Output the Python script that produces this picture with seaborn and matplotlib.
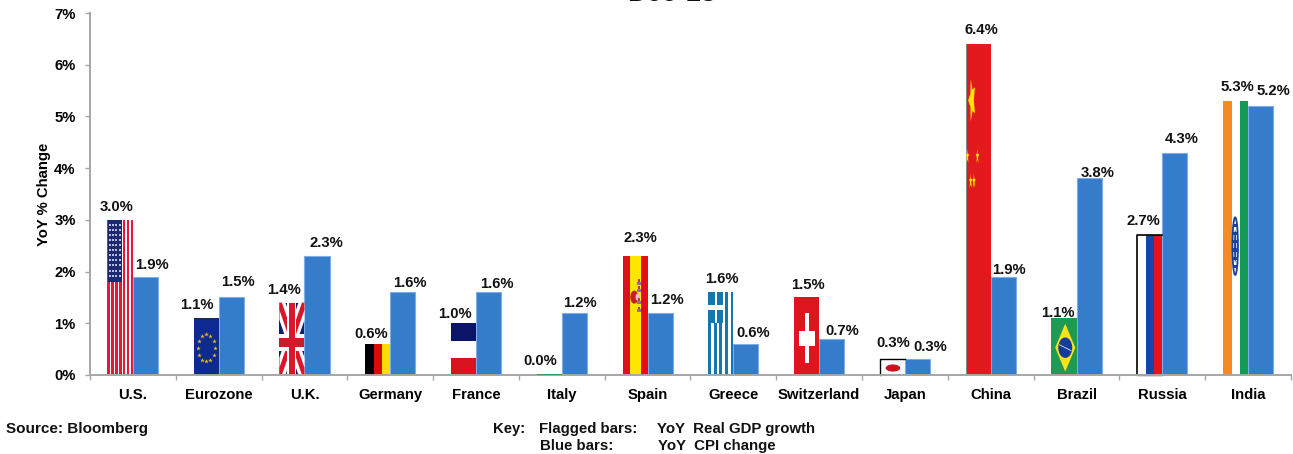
import numpy as np
import pandas as pd
import seaborn as sns
import matplotlib
matplotlib.use("Agg")
import matplotlib.pyplot as plt
from matplotlib.patches import Rectangle, Polygon, Ellipse
from matplotlib.transforms import Affine2D

# Year-on-year figures per economy
countries = ["U.S.", "Eurozone", "U.K.", "Germany", "France", "Italy", "Spain", "Greece",
             "Switzerland", "Japan", "China", "Brazil", "Russia", "India"]
real_gdp = [3.0, 1.1, 1.4, 0.6, 1.0, 0.0, 2.3, 1.6, 1.5, 0.3, 6.4, 1.1, 2.7, 5.3]
cpi = [1.9, 1.5, 2.3, 1.6, 1.6, 1.2, 1.2, 0.6, 0.7, 0.3, 1.9, 3.8, 4.3, 5.2]
y_ticks = [0, 1, 2, 3, 4, 5, 6, 7]

# Nudges for the value labels, in pixels from the top centre of each bar
gdp_label_dx = [-3.6, -9.4, -7.7, -6.5, -8.3, -9.1, 5.1, 1.3, 1.5, 0.7, 2.9, -5.9, -6.7, 1.5]
gdp_label_dy = [13, 13, 13, 10, 9, 14, 18, 13, 12, 16.5, 14, 5, 14, 14]
cpi_label_dx = [6.1, 6.3, 9.5, 6.7, 7.9, 5.1, 6.3, 7.5, 10.7, 12.9, 6.1, 8.3, 6.5, 12.7]
cpi_label_dy = [12, 15, 13, 9, 8, 10, 13, 11, 8, 12.5, 7, 5.5, 13.6, 15]

BLUE = "#357CCB"
BLUE_EDGE = "#7DAEE6"
AXIS_GRAY = "#A6A6A6"
FONT = "Liberation Sans"
FS = 10.7

plt.rcParams["font.family"] = [FONT, "DejaVu Sans"]
plt.rcParams["font.weight"] = "bold"

W, H = 1293, 454
fig = plt.figure(figsize=(W / 100, H / 100), dpi=100)
ax = fig.add_axes([90 / W, 1 - 375 / H, 1201 / W, 362 / H])

frame = pd.DataFrame({
    "country": countries * 2,
    "series": ["gdp"] * len(countries) + ["cpi"] * len(countries),
    "value": real_gdp + cpi,
})
sns.barplot(data=frame, x="country", y="value", hue="series", hue_order=["gdp", "cpi"],
            order=countries, palette={"gdp": "white", "cpi": BLUE}, width=0.585, gap=0,
            legend=False, ax=ax, saturation=1)
gdp_bars, cpi_bars = ax.containers
for bar in cpi_bars:
    bar.set_edgecolor(BLUE_EDGE)
    bar.set_linewidth(0.8)
for bar in gdp_bars:
    bar.set_linewidth(0)

ax.set_xlim(-0.5, len(countries) - 0.5)
ax.set_ylim(0, 7)
ax.set_yticks(y_ticks, [f"{t}%" for t in y_ticks])
ax.set_xticks(range(len(countries)), countries)
ax.set_xticks(np.arange(len(countries) + 1) - 0.5, minor=True)
ax.tick_params(axis="x", which="major", length=0, pad=9.7, labelsize=FS)
ax.tick_params(axis="x", which="minor", length=3.5, width=1, color=AXIS_GRAY)
ax.tick_params(axis="y", length=3.5, width=1, color=AXIS_GRAY, pad=6.8, labelsize=FS)
ax.set_xlabel("")
ax.set_ylabel("YoY % Change", fontsize=FS, fontweight="bold")
ax.yaxis.set_label_coords(-0.0325, 0.5)
for side in ("top", "right"):
    ax.spines[side].set_visible(False)
for side in ("left", "bottom"):
    ax.spines[side].set_color(AXIS_GRAY)
    ax.spines[side].set_linewidth(1.4)


def bar_frame(bar):
    """Transform taking the unit square onto a bar's rectangle."""
    return Affine2D().scale(bar.get_width(), bar.get_height()).translate(bar.get_x(), 0) + ax.transData


def rect(t, x, y, w, h, color, z=1.5):
    ax.add_patch(Rectangle((x, y), w, h, transform=t, fc=color, lw=0, zorder=z))


def poly(t, pts, color, z=1.6):
    ax.add_patch(Polygon(pts, closed=True, transform=t, fc=color, lw=0, zorder=z))


def oval(t, cx, cy, w, h, color, z=1.7, **kw):
    kw.setdefault("lw", 0)
    ax.add_patch(Ellipse((cx, cy), w, h, transform=t, fc=color, zorder=z, **kw))


def vstripes(t, fractions, colors):
    left = 0
    for f, c in zip(fractions, colors):
        rect(t, left, 0, f, 1, c)
        left += f


def star(cx, cy, rx, ry, start=np.pi / 2, inner=0.38):
    angles = start + np.arange(10) * np.pi / 5
    radii = np.where(np.arange(10) % 2 == 0, 1.0, inner)
    return np.c_[cx + rx * radii * np.cos(angles), cy + ry * radii * np.sin(angles)]


def flag_us(t):
    n = 13
    rect(t, 0, 0, 1, 1, "#F7C9D0")
    for i in range(0, n, 2):
        rect(t, i / n - 0.012, 0, 1 / n + 0.024, 1, "#E8163A", z=1.55)
    for i in range(1, n, 2):
        rect(t, i / n + 0.012, 0, 1 / n - 0.024, 1, "white", z=1.55)
    rect(t, 0, 0.6, 0.55, 0.4, "#1B2A70", z=1.6)
    xs, ys = np.meshgrid(np.linspace(0.08, 0.47, 4), np.linspace(0.64, 0.97, 11))
    ax.plot(xs.ravel(), ys.ravel(), ls="none", marker="s", ms=1.6, mew=0, color="#B4BBDD",
            transform=t, zorder=1.7)


def flag_eu(t):
    rect(t, 0, 0, 1, 1, "#0E2A8E")
    rect(t, 0, 0.98, 1, 0.02, "#222244", z=1.6)
    a = np.arange(12) * np.pi / 6
    ax.plot(0.5 + 0.34 * np.cos(a), 0.48 + 0.24 * np.sin(a), ls="none", marker="*", ms=3.4, mew=0,
            color="#E8BC22", transform=t, zorder=1.7)


def flag_uk(t):
    rect(t, 0, 0, 1, 1, "#141C6E")
    for d, c, z in ((0.24, "white", 1.6), (0.1, "#D8182A", 1.65)):
        poly(t, [(0, 0), (0, d), (1 - d, 1), (1, 1), (1, 1 - d), (d, 0)], c, z)
        poly(t, [(1, 0), (1, d), (d, 1), (0, 1), (0, 1 - d), (1 - d, 0)], c, z)
    rect(t, 0.3, 0, 0.38, 1, "white", z=1.7)
    rect(t, 0, 0.33, 1, 0.24, "white", z=1.7)
    rect(t, 0.37, 0, 0.25, 1, "#D8182A", z=1.75)
    rect(t, 0, 0.385, 1, 0.13, "#D8182A", z=1.75)


def flag_germany(t):
    vstripes(t, [1 / 3] * 3, ["black", "#DD0A0A", "#FFDD00"])


def flag_france(t):
    rect(t, 0, 2 / 3, 1, 1 / 3, "#0B1468")
    rect(t, 0, 0, 1, 1 / 3, "#D8141E")


def flag_italy(bar):
    # The bar has no height here, so only its outline shows
    bar.set_edgecolor("#1E9A50")
    bar.set_linewidth(1.2)
    bar.set_zorder(3)


def flag_spain(t):
    vstripes(t, [0.28, 0.47, 0.25], ["#E0101A", "#FFE600", "#E0101A"])
    oval(t, 0.47, 0.655, 0.32, 0.11, "#C8202A")
    oval(t, 0.6, 0.655, 0.16, 0.06, "#E8B8CC", z=1.75)
    for y in (0.53, 0.6, 0.7, 0.76):
        rect(t, 0.56, y, 0.18, 0.025, "#8C6FB8", z=1.75)
        rect(t, 0.6, y + 0.025, 0.1, 0.02, "#D03040", z=1.75)


def flag_greece(t):
    n = 9
    blue = "#1577AB"
    for i in range(n):
        rect(t, i / n, 0, 1 / n, 1, blue if i % 2 == 0 else "white")
    rect(t, 0, 0.63, 0.67, 0.37, "white", z=1.6)
    for x in (0, 0.33):
        for y, h in ((0.85, 0.15), (0.63, 0.15)):
            rect(t, x, y, 0.25, h, blue, z=1.7)


def flag_swiss(t):
    rect(t, 0, 0, 1, 1, "#E0141E")
    rect(t, 0.2, 0.38, 0.64, 0.19, "white", z=1.6)
    rect(t, 0.43, 0.16, 0.17, 0.64, "white", z=1.6)


def flag_japan(t):
    oval(t, 0.52, 0.45, 0.58, 0.46, "#D0101A")
    ax.plot([0, 0, 1], [0, 1, 1], color="black", lw=1, transform=t, zorder=1.8, clip_on=False)


def flag_china(t):
    rect(t, 0, 0, 1, 1, "#E21A1E")
    rect(t, 0, 0, 0.035, 1, "#7F8C8C", z=1.6)
    yellow = "#FFE600"
    poly(t, star(0.25, 0.83, 0.15, 0.067, start=np.pi, inner=0.5), yellow)
    for cx, cy in ((0.07, 0.66), (0.47, 0.66), (0.2, 0.585), (0.33, 0.585)):
        poly(t, star(cx, cy, 0.07, 0.024), yellow)


def flag_brazil(t):
    rect(t, 0, 0, 1, 1, "#1E9A55")
    poly(t, [(0.15, 0.48), (0.55, 0.9), (0.95, 0.48), (0.55, 0.06)], "#FFE21A")
    oval(t, 0.55, 0.48, 0.56, 0.36, "#123E9A")
    ax.plot([0.32, 0.78], [0.53, 0.43], color="#D8E4F2", lw=0.6, transform=t, zorder=1.8)


def flag_russia(t):
    vstripes(t, [0.35, 0.33, 0.32], ["white", "#1048A8", "#E4141E"])
    ax.plot([0, 0, 1], [0, 1, 1], color="black", lw=1.2, transform=t, zorder=1.8, clip_on=False)
    ax.plot([0, 1], [0, 0], color="#555555", lw=1, transform=t, zorder=1.8, clip_on=False)


def flag_india(t):
    vstripes(t, [0.36, 0.32, 0.32], ["#F58A24", "white", "#149A55"])
    navy = "#1A3F9C"
    oval(t, 0.485, 0.47, 0.22, 0.21, "none", ec=navy, lw=1.3)
    oval(t, 0.485, 0.47, 0.09, 0.12, navy)
    for y in np.arange(0.39, 0.56, 0.03):
        rect(t, 0.4, y, 0.17, 0.012, navy, z=1.75)


painters = [flag_us, flag_eu, flag_uk, flag_germany, flag_france, None, flag_spain, flag_greece,
            flag_swiss, flag_japan, flag_china, flag_brazil, flag_russia, flag_india]
for bar, paint in zip(gdp_bars, painters):
    if paint is None:
        flag_italy(bar)
    else:
        paint(bar_frame(bar))

# Value labels sit just above the bars
for bars, dxs, dys in ((gdp_bars, gdp_label_dx, gdp_label_dy), (cpi_bars, cpi_label_dx, cpi_label_dy)):
    for bar, dx, dy in zip(bars, dxs, dys):
        ax.annotate(f"{bar.get_height():.1f}%", (bar.get_x() + bar.get_width() / 2, bar.get_height()),
                    xytext=(dx, dy), textcoords="offset pixels", ha="center", va="center",
                    fontsize=FS, fontweight="bold", color="#111111", zorder=5)


def note(x, y, text, size=FS, **kw):
    fig.text(x / W, 1 - y / H, text, fontsize=size, fontweight="bold", va="center", color="#111111", **kw)


fig.text(672 / W, 1 - 1.2 / H, "Dec-18", fontsize=19.5, fontweight="bold", ha="center", va="baseline",
         color="#111111")
note(6, 428.5, "Source: Bloomberg", size=11)
note(493, 428.5, "Key:")
note(539, 428.5, "Flagged bars:", size=10.85)
note(657, 428.5, "YoY  Real GDP growth", size=10.8)
note(540, 446, "Blue bars:", size=10.85)
note(657.5, 446, "YoY  CPI change", size=10.8)

fig.savefig("out.png", dpi=100)
